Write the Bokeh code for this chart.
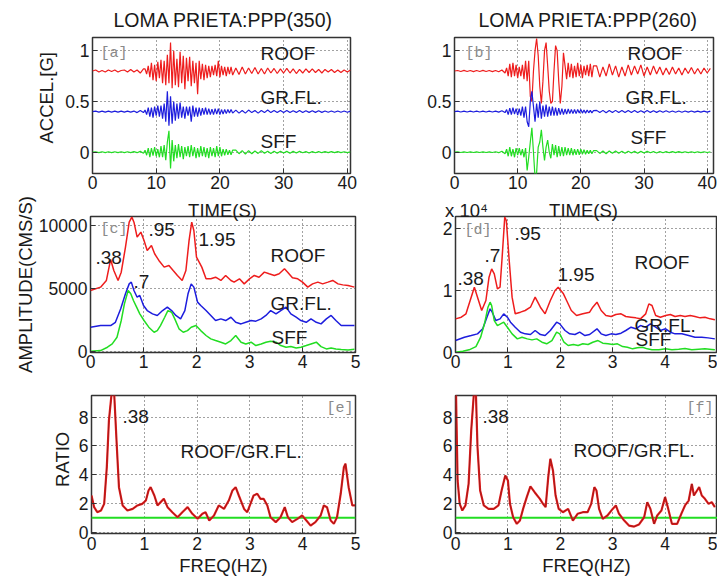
import math
import numpy as np
from bokeh.plotting import figure
from bokeh.layouts import column, row
from bokeh.models import Label, Title, LinearAxis, FixedTicker
from bokeh.embed import file_html
from bokeh.resources import INLINE

FONT = "Liberation Sans"
MONO = "Liberation Mono"
RED, BLUE, GREEN = "#ee1d1d", "#1d1ddd", "#22dd22"
DARKRED = "#8a1a1a"
INK = "#1a1a1a"
NBSP = "\u00a0"

# ---------------- data ----------------
# sampling times of the digitised accelerograms (s)
time_s = np.concatenate([np.arange(0, 8.01, 0.5), np.arange(8.25, 22.01, 0.25), np.arange(22.5, 40.51, 0.5)])

# trace baselines (g) used to stack the records
trace_offsets = {"ROOF": 0.8, "GR.FL.": 0.4, "SFF": 0.0}

# panel [a] PPP(350) accelerations (g), relative to each baseline
a_roof = [0.0, 0.01, -0.01, 0.005, -0.01, 0.01, -0.005, 0.01, -0.01, 0.005, 0.01, -0.01, 0.015, -0.01, 0.01, -0.02, 0.02,
          0.02, -0.03, 0.05, -0.06, 0.08, -0.09, 0.06, -0.1, 0.09, -0.07, 0.11, -0.12, 0.1, -0.14, 0.16, -0.12,
          0.28, -0.17, 0.2, -0.14, 0.12, -0.16, 0.19, -0.12, 0.15, -0.18, 0.13, -0.1, 0.14, -0.15, 0.1, -0.12,
          0.08, -0.23, 0.1, -0.08, 0.07, -0.09, 0.06, -0.07, 0.05, -0.06, 0.05, -0.04, 0.06, -0.05, 0.1, -0.06,
          0.05, -0.04, 0.04, -0.05, 0.04, -0.03, 0.04, -0.04,
          0.03, -0.035, 0.04, -0.03, 0.03, -0.025, 0.035, -0.03, 0.025, -0.03, 0.03, -0.02, 0.025, -0.025, 0.02,
          -0.02, 0.025, -0.02, 0.02, -0.025, 0.015, -0.02, 0.02, -0.015, 0.02, -0.015, 0.015, -0.02, 0.015, -0.01,
          0.015, -0.015, 0.01, -0.015, 0.01, -0.01, 0.01]
a_grfl = [0, 0.005, -0.005, 0.005, -0.005, 0.005, -0.005, 0.005, -0.005, 0.005, -0.005, 0.005, -0.005, 0.005, -0.01, 0.01, -0.01,
          0.015, -0.03, 0.04, -0.05, 0.04, -0.06, 0.05, -0.04, 0.06, -0.05, 0.06, -0.07, 0.08, -0.1, 0.2, -0.14,
          0.15, -0.12, 0.1, -0.09, 0.08, -0.07, 0.09, -0.06, 0.05, -0.07, 0.05, -0.04, 0.05, -0.1, 0.06, -0.05,
          0.04, -0.05, 0.04, -0.04, 0.035, -0.03, 0.04, -0.03, 0.03, -0.03, 0.025, -0.03, 0.03, -0.025, 0.03, -0.03,
          0.02, -0.025, 0.02, -0.02, 0.02, -0.015, 0.02, -0.015,
          0.015, -0.015, 0.01, -0.015, 0.015, -0.01, 0.01, -0.015, 0.01, -0.01, 0.015, -0.01, 0.01, -0.01, 0.01,
          -0.01, 0.01, -0.01, 0.008, -0.008, 0.01, -0.01, 0.008, -0.008, 0.008, -0.008, 0.008, -0.008, 0.006, -0.006,
          0.006, -0.006, 0.006, -0.006, 0.006, -0.006, 0.005]
a_sff = [0, 0.004, -0.004, 0.004, -0.004, 0.004, -0.004, 0.004, -0.004, 0.004, -0.004, 0.004, -0.004, 0.005, -0.005, 0.008, -0.01,
         0.02, -0.03, 0.04, -0.05, 0.04, -0.035, 0.05, -0.04, 0.03, -0.05, 0.06, -0.05, 0.07, -0.08, 0.1, 0.21,
         -0.16, 0.12, -0.09, 0.07, -0.06, 0.08, -0.05, 0.06, -0.07, 0.05, -0.04, 0.06, -0.05, 0.07, -0.04, 0.05,
         -0.06, 0.04, -0.05, 0.06, -0.04, 0.05, -0.05, 0.04, -0.06, 0.05, -0.04, 0.04, -0.05, 0.06, -0.04, 0.05,
         -0.04, 0.03, -0.03, 0.03, -0.025, 0.02, -0.025, 0.02,
         0.02, -0.015, 0.015, -0.02, 0.015, -0.015, 0.012, -0.012, 0.015, -0.01, 0.01, -0.012, 0.01, -0.01, 0.01,
         -0.008, 0.008, -0.01, 0.008, -0.008, 0.008, -0.006, 0.006, -0.008, 0.006, -0.006, 0.006, -0.005, 0.005, -0.005,
         0.005, -0.005, 0.005, -0.004, 0.004, -0.004, 0.004]

# panel [b] PPP(260) accelerations (g), relative to each baseline
b_roof = [0, 0.005, -0.005, 0.006, -0.005, 0.005, -0.006, 0.005, -0.005, 0.006, -0.005, 0.005, -0.006, 0.005, -0.008, 0.01, -0.02,
          0.03, -0.05, 0.07, -0.06, 0.08, -0.05, 0.06, -0.07, 0.04, -0.05, 0.06, -0.08, 0.1, -0.1, 0.1, -0.25,
          -0.3, 0.0, 0.2, 0.32, 0.15, -0.15, -0.32, -0.1, 0.2, 0.28, 0.05, -0.2, -0.32, -0.3, 0.0, 0.25,
          0.2, -0.1, -0.32, -0.15, 0.18, 0.05, -0.08, 0.08, -0.06, 0.07, -0.07, 0.05, -0.06, 0.08, -0.05, 0.06,
          -0.07, 0.05, -0.04, 0.06, -0.05, 0.07, -0.06, 0.05,
          0.05, -0.06, 0.04, -0.05, 0.07, -0.04, 0.05, -0.06, 0.04, -0.05, 0.06, -0.04, 0.05, -0.03, 0.06,
          -0.05, 0.04, -0.04, 0.05, -0.03, 0.04, -0.04, 0.03, -0.035, 0.04, -0.03, 0.03, -0.04, 0.03, -0.025,
          0.035, -0.03, 0.025, -0.03, 0.03, -0.02, 0.025]
b_grfl = [0, 0.004, -0.004, 0.004, -0.004, 0.004, -0.004, 0.004, -0.004, 0.004, -0.004, 0.004, -0.004, 0.004, -0.005, 0.008, -0.01,
          0.02, -0.03, 0.035, -0.03, 0.04, -0.025, 0.03, -0.035, 0.03, -0.04, 0.05, -0.06, 0.05, -0.1, -0.15, 0.1,
          0.2, 0.05, -0.1, 0.08, -0.06, 0.1, -0.07, 0.06, -0.05, 0.07, -0.05, 0.05, -0.04, 0.05, -0.04, 0.04,
          -0.04, 0.035, -0.03, 0.03, -0.03, 0.025, -0.025, 0.025, -0.02, 0.02, -0.02, 0.02, -0.02, 0.02, -0.015, 0.02,
          -0.015, 0.015, -0.015, 0.015, -0.012, 0.012, -0.012, 0.01,
          0.012, -0.01, 0.012, -0.012, 0.01, -0.01, 0.012, -0.01, 0.01, -0.01, 0.01, -0.008, 0.01, -0.01, 0.008,
          -0.008, 0.01, -0.008, 0.008, -0.008, 0.008, -0.006, 0.008, -0.006, 0.006, -0.006, 0.006, -0.006, 0.006, -0.005,
          0.006, -0.005, 0.005, -0.005, 0.005, -0.005, 0.005]
b_sff = [0, 0.003, -0.003, 0.003, -0.003, 0.003, -0.003, 0.003, -0.003, 0.003, -0.003, 0.003, -0.003, 0.004, -0.005, 0.01, -0.015,
         0.03, -0.04, 0.05, -0.04, 0.03, -0.05, 0.04, -0.03, 0.04, -0.03, 0.03, -0.05, 0.04, -0.18, -0.05, 0.1,
         0.24, 0.0, -0.25, -0.2, 0.05, 0.1, 0.22, 0.05, -0.08, 0.05, 0.12, 0.0, -0.06, 0.08, -0.03, 0.07,
         -0.05, 0.06, -0.04, 0.05, -0.04, 0.05, -0.03, 0.04, -0.03, 0.04, -0.03, 0.03, -0.025, 0.03, -0.025, 0.03,
         -0.02, 0.025, -0.02, 0.02, -0.015, 0.02, -0.015, 0.015,
         0.015, -0.012, 0.012, -0.015, 0.012, -0.01, 0.012, -0.01, 0.01, -0.01, 0.01, -0.008, 0.008, -0.01, 0.008,
         -0.008, 0.008, -0.006, 0.006, -0.008, 0.006, -0.006, 0.006, -0.005, 0.005, -0.005, 0.005, -0.005, 0.004, -0.004,
         0.004, -0.004, 0.004, -0.004, 0.004, -0.003, 0.003]

# panel [c] Fourier amplitude spectra, PPP(350) (cm/s)
c_roof_f = [0, 0.19, 0.30, 0.38, 0.44, 0.52, 0.58, 0.66, 0.73, 0.78, 0.82, 0.88, 0.95, 1.01, 1.07, 1.15, 1.21, 1.29, 1.39, 1.48,
            1.56, 1.64, 1.73, 1.80, 1.86, 1.91, 1.95, 2.00, 2.05, 2.10, 2.18, 2.27, 2.36, 2.46, 2.55, 2.65, 2.71, 2.81, 2.90, 3.00,
            3.09, 3.18, 3.28, 3.37, 3.47, 3.56, 3.66, 3.72, 3.81, 3.91, 4.00, 4.10, 4.19, 4.29, 4.38, 4.48, 4.57, 4.67, 4.76, 4.86, 4.98]
c_roof_a = [4820, 5090, 5620, 7290, 6410, 5620, 6280, 8270, 10250, 10650, 10250, 9060, 9460, 8800, 8000, 8400, 7740, 7210, 6680, 6810,
            6410, 6020, 5620, 6410, 8800, 10250, 9590, 7470, 7080, 6680, 5750, 5750, 5880, 5620, 6020, 5620, 5490, 5750, 5350, 5750,
            6020, 5880, 6280, 6150, 6020, 6150, 6550, 6280, 5830, 5750, 5490, 5090, 5350, 5490, 5350, 5490, 5620, 5350, 5270, 5220, 5090]
c_grfl_f = [0, 0.19, 0.38, 0.47, 0.57, 0.66, 0.73, 0.77, 0.82, 0.88, 0.93, 1.00, 1.07, 1.17, 1.26, 1.36, 1.45, 1.53, 1.61, 1.70,
            1.78, 1.84, 1.90, 1.95, 2.02, 2.08, 2.18, 2.27, 2.36, 2.46, 2.55, 2.65, 2.74, 2.84, 2.93, 3.03, 3.12, 3.22, 3.31, 3.40,
            3.50, 3.59, 3.69, 3.78, 3.88, 3.97, 4.07, 4.16, 4.26, 4.35, 4.45, 4.54, 4.63, 4.73, 4.86, 4.98]
c_grfl_a = [1910, 2040, 2040, 2300, 3370, 4560, 5350, 5490, 4820, 4290, 4430, 3630, 3230, 2970, 2840, 3230, 3500, 3230, 2840, 2570,
            3230, 4560, 5350, 5090, 3900, 3630, 3230, 2840, 2440, 2570, 2440, 2700, 2300, 2170, 2300, 2440, 2390, 2570, 2840, 3230,
            2970, 3230, 3500, 2970, 2700, 2440, 2300, 2570, 2300, 2170, 2570, 2840, 2440, 2040, 2040, 2040]
c_sff_f = [0, 0.19, 0.32, 0.41, 0.50, 0.58, 0.64, 0.71, 0.76, 0.81, 0.87, 0.93, 1.01, 1.10, 1.20, 1.26, 1.32, 1.40, 1.46, 1.53,
           1.59, 1.67, 1.75, 1.83, 1.90, 1.99, 2.08, 2.18, 2.27, 2.36, 2.46, 2.55, 2.65, 2.74, 2.84, 2.93, 3.03, 3.12, 3.22, 3.31,
           3.40, 3.50, 3.59, 3.69, 3.78, 3.88, 3.97, 4.07, 4.16, 4.26, 4.35, 4.45, 4.54, 4.63, 4.73, 4.86, 4.98]
c_sff_a = [0, 50, 320, 580, 1110, 2440, 3760, 4820, 4560, 4030, 3500, 2970, 2440, 1910, 1510, 1640, 2040, 2700, 3230, 3100,
           2570, 1780, 1510, 1640, 1910, 2040, 1640, 1250, 980, 850, 720, 580, 850, 1250, 720, 580, 720, 450, 580, 720,
           800, 720, 450, 320, 370, 265, 320, 450, 580, 720, 370, 185, 265, 185, 130, 100, 160]

# panel [d] Fourier amplitude spectra, PPP(260) (cm/s)
d_roof_f = [0, 0.11, 0.20, 0.28, 0.36, 0.42, 0.50, 0.58, 0.64, 0.69, 0.74, 0.80, 0.85, 0.89, 0.94, 0.97, 1.02, 1.08, 1.14, 1.24,
            1.33, 1.43, 1.52, 1.62, 1.71, 1.81, 1.90, 1.96, 2.06, 2.12, 2.21, 2.31, 2.43, 2.56, 2.62, 2.70, 2.78, 2.87, 2.97, 3.06,
            3.16, 3.25, 3.35, 3.44, 3.53, 3.63, 3.69, 3.75, 3.82, 3.91, 4.01, 4.10, 4.19, 4.29, 4.38, 4.48, 4.57, 4.67, 4.76, 4.86, 4.95]
d_roof_a = [5380, 5650, 6190, 8340, 10490, 8880, 6730, 8340, 12100, 13450, 12640, 10220, 10490, 15330, 21800, 21250, 15330, 8880, 6190, 6460,
            6730, 7260, 8880, 7260, 6190, 8340, 9950, 10490, 9420, 8340, 6730, 5920, 6190, 6460, 7260, 8070, 6730, 5920, 5760, 6080,
            6190, 5760, 5650, 5540, 5380, 6190, 7800, 7530, 5920, 5650, 5920, 6080, 5760, 5920, 5760, 5920, 5760, 5540, 5650, 5380, 5220]
d_grfl_f = [0, 0.17, 0.30, 0.42, 0.52, 0.60, 0.66, 0.70, 0.77, 0.85, 0.92, 0.99, 1.05, 1.14, 1.24, 1.33, 1.43, 1.52, 1.62, 1.71,
            1.81, 1.93, 1.99, 2.09, 2.18, 2.28, 2.37, 2.47, 2.56, 2.70, 2.78, 2.87, 2.97, 3.06, 3.16, 3.25, 3.35, 3.44, 3.53, 3.63,
            3.72, 3.82, 3.91, 4.01, 4.10, 4.19, 4.32, 4.45, 4.57, 4.70, 4.82, 4.95]
d_grfl_a = [1880, 2420, 2690, 2960, 3770, 5650, 6990, 6460, 5110, 5380, 6190, 5650, 4840, 4030, 3230, 2960, 2850, 3500, 2850, 2690,
            3500, 4840, 4570, 3500, 2960, 2850, 3230, 2690, 2850, 3770, 2960, 2690, 2960, 2850, 3070, 3500, 4030, 3770, 4300, 4030,
            4570, 4030, 3500, 3770, 3230, 2960, 2960, 2690, 2420, 2420, 2310, 2150]
d_sff_f = [0, 0.14, 0.26, 0.39, 0.48, 0.56, 0.62, 0.66, 0.69, 0.74, 0.80, 0.86, 0.92, 0.99, 1.08, 1.18, 1.27, 1.37, 1.46, 1.55,
           1.65, 1.74, 1.84, 1.93, 1.99, 2.07, 2.15, 2.25, 2.34, 2.43, 2.53, 2.62, 2.72, 2.81, 2.91, 3.00, 3.09, 3.19, 3.28, 3.38,
           3.47, 3.57, 3.66, 3.75, 3.88, 4.01, 4.13, 4.26, 4.38, 4.51, 4.64, 4.76, 4.89, 4.95]
d_sff_a = [0, 160, 380, 910, 2420, 4840, 7260, 8070, 7530, 5110, 4300, 4570, 4840, 4030, 2960, 2150, 2420, 2150, 1990, 2150,
           1610, 1350, 1880, 3230, 2960, 1610, 1080, 1240, 1080, 1350, 1240, 1610, 1880, 1450, 1350, 1240, 1350, 910, 810, 540,
           700, 810, 540, 380, 380, 540, 380, 480, 590, 380, 480, 540, 430, 380]

# panels [e] and [f] spectral ratio ROOF/GR.FL.
e_freq = [0, 0.05, 0.11, 0.18, 0.24, 0.29, 0.33, 0.38, 0.43, 0.48, 0.52, 0.59, 0.68, 0.78, 0.87, 0.96, 1.03, 1.08, 1.12, 1.19,
          1.25, 1.31, 1.37, 1.44, 1.53, 1.63, 1.72, 1.82, 1.91, 2.01, 2.10, 2.16, 2.23, 2.32, 2.41, 2.51, 2.60, 2.67, 2.73, 2.79,
          2.89, 2.95, 3.01, 3.07, 3.14, 3.20, 3.26, 3.33, 3.39, 3.49, 3.58, 3.66, 3.72, 3.80, 3.90, 3.99, 4.07, 4.15, 4.24, 4.34,
          4.40, 4.46, 4.53, 4.59, 4.65, 4.72, 4.78, 4.81, 4.87, 4.94, 4.99]
e_ratio = [2.55, 1.74, 1.39, 1.51, 1.97, 4.52, 7.77, 9.6, 9.6, 5.92, 3.13, 1.86, 1.51, 1.62, 1.86, 1.97, 2.20, 2.90, 3.13, 2.55,
           1.86, 2.09, 2.32, 1.74, 1.39, 1.04, 1.39, 1.74, 1.28, 0.93, 1.28, 1.39, 0.81, 1.16, 1.86, 1.62, 2.20, 2.90, 3.13, 2.55,
           1.62, 1.39, 1.97, 2.55, 2.67, 2.32, 2.32, 1.86, 1.04, 0.70, 1.04, 1.74, 1.04, 0.70, 0.93, 1.16, 0.81, 0.46, 0.70, 1.16,
           1.86, 1.74, 0.81, 0.58, 1.04, 2.67, 4.52, 4.76, 3.13, 1.86, 1.86]
f_freq = [0, 0.01, 0.04, 0.08, 0.13, 0.19, 0.25, 0.30, 0.35, 0.39, 0.42, 0.47, 0.54, 0.63, 0.73, 0.82, 0.88, 0.95, 1.00, 1.04, 1.10,
          1.17, 1.23, 1.29, 1.36, 1.43, 1.51, 1.61, 1.67, 1.72, 1.77, 1.81, 1.86, 1.91, 1.97, 2.05, 2.15, 2.24, 2.33, 2.43, 2.52,
          2.59, 2.65, 2.69, 2.74, 2.81, 2.90, 3.00, 3.06, 3.12, 3.22, 3.31, 3.41, 3.50, 3.60, 3.66, 3.72, 3.79, 3.85, 3.93, 4.00,
          4.06, 4.13, 4.23, 4.31, 4.38, 4.45, 4.51, 4.55, 4.61, 4.65, 4.70, 4.76, 4.83, 4.89, 4.95]
f_ratio = [9.6, 9.6, 3.6, 1.97, 1.51, 1.86, 3.36, 7.08, 9.6, 9.6, 5.92, 2.90, 1.86, 1.62, 1.62, 1.86, 2.90, 3.94, 3.60, 1.97, 1.04,
           0.58, 0.81, 1.62, 2.44, 3.18, 2.78, 2.32, 1.97, 1.74, 3.83, 5.10, 4.29, 2.55, 1.62, 1.39, 1.62, 0.81, 1.28, 1.39, 1.39,
           1.97, 3.13, 2.90, 1.62, 0.93, 1.16, 1.62, 1.86, 1.28, 0.81, 0.46, 0.39, 0.53, 1.04, 2.09, 1.62, 0.58, 1.16, 1.51, 2.44,
           1.62, 0.58, 0.58, 1.28, 1.86, 2.20, 3.36, 2.55, 2.90, 3.13, 2.55, 2.32, 1.97, 2.09, 1.74]
unit_freq = [0, 5]
unit_ratio = [1, 1]

# tick values / labels
time_ticks = [0, 10, 20, 30, 40]
freq_ticks = [0, 1, 2, 3, 4, 5]
accel_ticks = {0: "0", 0.5: "0.5", 1: "1"}
amp_c_ticks = {0: "0", 5000: "5000", 10000: "10000"}
amp_d_ticks = {0: "0", 10000: "1", 20000: "2"}
ratio_ticks = {0: "0", 2: "2", 4: "4", 6: "6", 8: "8"}

# ---------------- layout geometry (page pixels) ----------------
ROWS = [(0, 195), (195, 181), (376, 206)]   # (top, height)
COLS = [(0, 380), (380, 337)]               # (left, width)
G = {
    "a": dict(L=92, R=350, T=37, B=173, xr=(0, 40.5), yr=(-0.21, 1.13), col=0, row=0),
    "b": dict(L=454, R=713, T=37, B=173, xr=(0, 41), yr=(-0.21, 1.13), col=1, row=0),
    "c": dict(L=90, R=355, T=216, B=352, xr=(0, 5), yr=(-100, 10700), col=0, row=1),
    "d": dict(L=455, R=717, T=216, B=352, xr=(0, 5), yr=(-50, 21900), col=1, row=1),
    "e": dict(L=91, R=355, T=395, B=533, xr=(0, 5), yr=(-0.09, 9.5), col=0, row=2),
    "f": dict(L=455, R=717, T=395, B=533, xr=(0, 5), yr=(-0.09, 9.5), col=1, row=2),
}


def to_data(g, px, py):
    x = g["xr"][0] + (px - g["L"]) / (g["R"] - g["L"]) * (g["xr"][1] - g["xr"][0])
    y = g["yr"][1] - (py - g["T"]) / (g["B"] - g["T"]) * (g["yr"][1] - g["yr"][0])
    return x, y


def style_axis(ax, size="17.5px", standoff=3):
    ax.axis_line_color = None
    ax.major_tick_in = 5
    ax.major_tick_out = 0
    ax.minor_tick_in = 0
    ax.minor_tick_out = 0
    ax.major_tick_line_color = "#333333"
    ax.minor_tick_line_color = None
    ax.major_label_text_font = FONT
    ax.major_label_text_font_size = size
    ax.major_label_text_color = INK
    ax.major_label_standoff = standoff
    ax.axis_label_text_font = FONT
    ax.axis_label_text_font_size = "18.5px"
    ax.axis_label_text_font_style = "normal"
    ax.axis_label_text_color = INK


def make_panel(key, xticks, yoverrides, xstandoff=2):
    g = G[key]
    x0, w = COLS[g["col"]]
    y0, h = ROWS[g["row"]]
    p = figure(width=w, height=h, x_range=g["xr"], y_range=g["yr"],
               output_backend="svg", toolbar_location=None,
               min_border_left=g["L"] - x0, min_border_right=x0 + w - g["R"],
               min_border_top=g["T"] - y0, min_border_bottom=y0 + h - g["B"])
    p.background_fill_color = "white"
    p.border_fill_color = "white"
    p.outline_line_color = "#333333"
    p.outline_line_width = 1.5
    p.xaxis.ticker = xticks
    p.yaxis.ticker = list(yoverrides.keys())
    p.yaxis.major_label_overrides = yoverrides
    style_axis(p.xaxis[0], standoff=xstandoff)
    style_axis(p.yaxis[0], standoff=3)
    for gr in (p.xgrid[0], p.ygrid[0]):
        gr.grid_line_color = "#444444"
        gr.grid_line_dash = "1 3"
        gr.grid_line_width = 1
    return p


def text(p, key, px, py, s, size="19px", align="left", font=FONT, color=INK):
    x, y = to_data(G[key], px, py)
    p.add_layout(Label(x=x, y=y, text=s, text_font=font, text_font_size=size, text_align=align,
                       text_baseline="middle", text_color=color))


def title(p, key, px_left, s):
    t = Title(text=s, align="left", offset=px_left - G[key]["L"], vertical_align="top", standoff=10,
              text_font=FONT, text_font_size="19.5px", text_font_style="normal", text_color=INK)
    p.add_layout(t, "above")


def top_caption(p, key, items, size="18.5px"):
    # captions that sit in the gap above a panel (x-label of the panel above it)
    g = G[key]
    ticks, overrides = [], {}
    for px, s in items:
        x = round(to_data(g, px, 0)[0], 3)
        ticks.append(x)
        overrides[x] = s
    ax = LinearAxis(ticker=FixedTicker(ticks=ticks), major_label_overrides=overrides)
    style_axis(ax, size=size, standoff=-4)
    ax.major_tick_in = 0
    ax.major_tick_line_color = None
    p.add_layout(ax, "above")


def traces(p, roof, grfl, sff):
    n = len(time_s)
    for vals, name, col in ((roof, "ROOF", RED), (grfl, "GR.FL.", BLUE), (sff, "SFF", GREEN)):
        m = min(n, len(vals))
        p.line(time_s[:m], [v + trace_offsets[name] for v in vals[:m]], line_color=col, line_width=1.2)


# ---- row 1: accelerograms ----
pa = make_panel("a", time_ticks, accel_ticks)
traces(pa, a_roof, a_grfl, a_sff)
title(pa, "a", 113, "LOMA PRIETA:PPP(350)")
pa.yaxis.axis_label = NBSP * 3 + "ACCEL.[G]"
pa.yaxis.axis_label_standoff = 5
text(pa, "a", 100, 53, "[a]", size="15px", font=MONO, color="#8a8a8a")
text(pa, "a", 260, 53, "ROOF")
text(pa, "a", 260, 97, "GR.FL.")
text(pa, "a", 260, 141, "SFF")

pb = make_panel("b", time_ticks, accel_ticks)
traces(pb, b_roof, b_grfl, b_sff)
title(pb, "b", 478, "LOMA PRIETA:PPP(260)")
text(pb, "b", 465, 53, "[b]", size="15px", font=MONO, color="#8a8a8a")
text(pb, "b", 627, 53, "ROOF")
text(pb, "b", 625, 97, "GR.FL.")
text(pb, "b", 630, 137, "SFF")

# ---- row 2: amplitude spectra ----
pc = make_panel("c", freq_ticks, amp_c_ticks)
pc.line(c_roof_f, c_roof_a, line_color=RED, line_width=1.5)
pc.line(c_grfl_f, c_grfl_a, line_color=BLUE, line_width=1.5)
pc.line(c_sff_f, c_sff_a, line_color=GREEN, line_width=1.5)
top_caption(pc, "c", [(222, "TIME(S)")])
pc.yaxis.axis_label = "AMPLITUDE(CMS/S)"
pc.yaxis.axis_label_standoff = 0
text(pc, "c", 100, 229, "[c]", size="15px", font=MONO, color="#8a8a8a")
text(pc, "c", 95, 257, ".38")
text(pc, "c", 148, 229, ".95")
text(pc, "c", 198, 239, "1.95")
text(pc, "c", 270, 255, "ROOF")
text(pc, "c", 133, 281, ".7")
text(pc, "c", 270, 303, "GR.FL.")
text(pc, "c", 271, 337, "SFF")

pd_ = make_panel("d", freq_ticks, amp_d_ticks)
pd_.line(d_roof_f, d_roof_a, line_color=RED, line_width=1.5)
pd_.line(d_grfl_f, d_grfl_a, line_color=BLUE, line_width=1.5)
pd_.line(d_sff_f, d_sff_a, line_color=GREEN, line_width=1.5)
top_caption(pd_, "d", [(466, "x 10\u2074"), (583, "TIME(S)")])
text(pd_, "d", 464, 230, "[d]", size="15px", font=MONO, color="#8a8a8a")
text(pd_, "d", 457, 278, ".38")
text(pd_, "d", 484, 255, ".7")
text(pd_, "d", 514, 233, ".95")
text(pd_, "d", 557, 274, "1.95")
text(pd_, "d", 634, 262, "ROOF")
text(pd_, "d", 634, 325, "GR.FL.")
text(pd_, "d", 635, 339, "SFF")

# ---- row 3: spectral ratios ----
pe = make_panel("e", freq_ticks, ratio_ticks, xstandoff=3)
pe.line(unit_freq, unit_ratio, line_color=GREEN, line_width=2)
pe.line(e_freq, e_ratio, line_color=RED, line_width=2.2)
pe.line(e_freq, e_ratio, line_color=DARKRED, line_width=0.8)
pe.yaxis.axis_label = NBSP * 2 + "RATIO"
pe.yaxis.axis_label_standoff = 3
pe.xaxis.axis_label = "FREQ(HZ)"
pe.xaxis.axis_label_standoff = 2
text(pe, "e", 122, 416, ".38")
text(pe, "e", 180, 451, "ROOF/GR.FL.")
text(pe, "e", 353, 408, "[e]", size="15px", font=MONO, color="#8a8a8a", align="right")

pf = make_panel("f", freq_ticks, ratio_ticks, xstandoff=3)
pf.line(unit_freq, unit_ratio, line_color=GREEN, line_width=2)
pf.line(f_freq, f_ratio, line_color=RED, line_width=2.2)
pf.line(f_freq, f_ratio, line_color=DARKRED, line_width=0.8)
pf.xaxis.axis_label = "FREQ(HZ)"
pf.xaxis.axis_label_standoff = 2
text(pf, "f", 482, 416, ".38")
text(pf, "f", 573, 450, "ROOF/GR.FL.")
text(pf, "f", 713, 408, "[f]", size="15px", font=MONO, color="#8a8a8a", align="right")

layout = column(row(pa, pb), row(pc, pd_), row(pe, pf))
open("out.html", "w").write(file_html(layout, INLINE))
